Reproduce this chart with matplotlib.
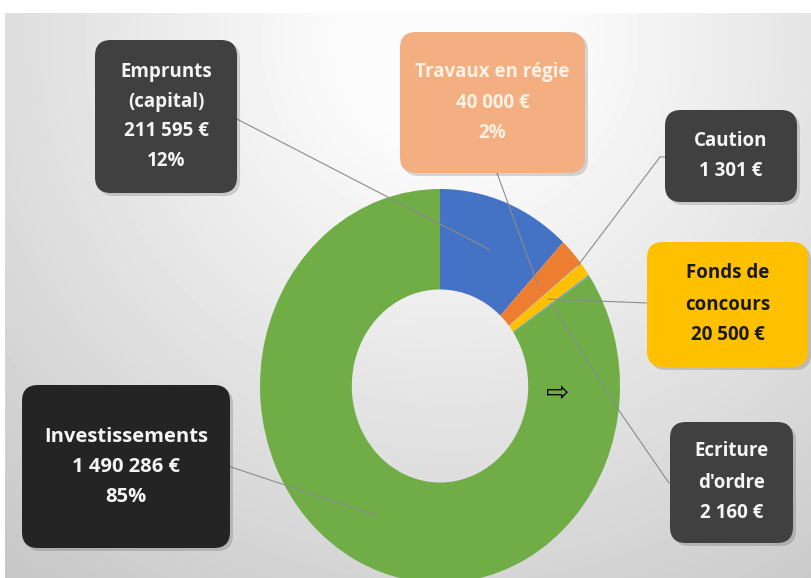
import numpy as np
import matplotlib.pyplot as plt
from matplotlib.patches import FancyBboxPatch

# data
names = ["Emprunts\n(capital)", "Travaux en régie", "Caution",
         "Fonds de\nconcours", "Ecriture\nd'ordre", "Investissements"]
values = [211595, 40000, 1301, 20500, 2160, 1490286]
percents = ["12%", "2%", "", "", "", "85%"]
colors = ["#4472C4", "#ED7D31", "#A5A5A5", "#FFC000", "#5B9BD5", "#70AD47"]

W, H = 811, 578
cx, cy, rx, ry = 440, 386, 180, 197

fig = plt.figure(figsize=(W / 100, H / 100), dpi=100)

# background gradient
bg = fig.add_axes([0, 0, 1, 1])
bg.set_xlim(0, W)
bg.set_ylim(H, 0)
bg.axis('off')
xx, yy = np.meshgrid(np.arange(5, W), np.arange(13, H))
d = np.sqrt((xx - 450) ** 2 + (yy - 40) ** 2)
shade = np.clip(252 - 0.09 * np.maximum(0, d - 100), 195, 252) / 255
bg.imshow(shade, cmap='gray', vmin=0, vmax=1, extent=[5, W, H, 13], aspect='auto')

# donut
pax = fig.add_axes([(cx - rx) / W, (H - cy - ry) / H, 2 * rx / W, 2 * ry / H])
wedges, _ = pax.pie(values, colors=colors, startangle=90, counterclock=False,
                    radius=1, wedgeprops=dict(width=0.51, linewidth=0))
pax.set_aspect('auto')
pax.set_xlim(-1, 1)
pax.set_ylim(-1, 1)
pax.axis('off')

# overlay for boxes and connectors
ov = fig.add_axes([0, 0, 1, 1])
ov.set_xlim(0, W)
ov.set_ylim(H, 0)
ov.axis('off')
ov.patch.set_alpha(0)


def anchor(i, r=0.745):
    t = np.deg2rad((wedges[i].theta1 + wedges[i].theta2) / 2)
    return cx + r * rx * np.cos(t), cy - r * ry * np.sin(t)


# box layout: x0, y0, x1, y1, face, text color, font size
boxes = [
    (95, 40, 237, 193, "#404040", "#F5F5F5", 13.5),
    (400, 32, 585, 173, "#F3AF82", "#FDF1E4", 13.5),
    (665, 110, 797, 202, "#404040", "#F5F5F5", 13.5),
    (647, 242, 808, 367, "#FFC000", "#1A1A1A", 13.5),
    (670, 422, 793, 543, "#404040", "#F5F5F5", 13.5),
    (22, 385, 230, 548, "#242424", "#F5F5F5", 14.5),
]
spacing = [30, 31, 31, 31, 31, 30]

# connector paths (box side points), then wedge anchor
links = [
    [(233, 117)],
    [(497, 173)],
    [(666, 157), (660, 157)],
    [(647, 303)],
    [(669, 483), (620, 412)],
    [(231, 467)],
]
anchor_r = [0.745, 0.745, 0.98, 0.745, 0.745, 0.745]

for i, pts in enumerate(links):
    path = pts + [anchor(i, anchor_r[i])]
    ov.plot([p[0] for p in path], [p[1] for p in path], color="#8C8C8C", lw=0.8, zorder=2)

for i, (x0, y0, x1, y1, face, tc, fs) in enumerate(boxes):
    shadow = FancyBboxPatch((x0 + 3, y0 + 3), x1 - x0, y1 - y0,
                            boxstyle="round,pad=0,rounding_size=16",
                            fc="black", ec="none", alpha=0.15, zorder=3)
    ov.add_patch(shadow)
    box = FancyBboxPatch((x0, y0), x1 - x0, y1 - y0,
                         boxstyle="round,pad=0,rounding_size=16",
                         fc=face, ec="none", zorder=4)
    ov.add_patch(box)
    lines = names[i].split("\n")
    lines.append(f"{values[i]:,}".replace(",", " ") + " €")
    if percents[i]:
        lines.append(percents[i])
    n = len(lines)
    ymid = (y0 + y1) / 2
    for k, s in enumerate(lines):
        ov.text((x0 + x1) / 2, ymid + (k - (n - 1) / 2) * spacing[i], s,
                ha='center', va='center', color=tc, fontsize=fs,
                fontweight='bold', family='Open Sans', zorder=5)

# arrow marker
ov.text(558, 393, "⇨", ha='center', va='center', fontsize=20,
        family='DejaVu Sans', color='black', zorder=5)

fig.savefig("out.png", dpi=100)
